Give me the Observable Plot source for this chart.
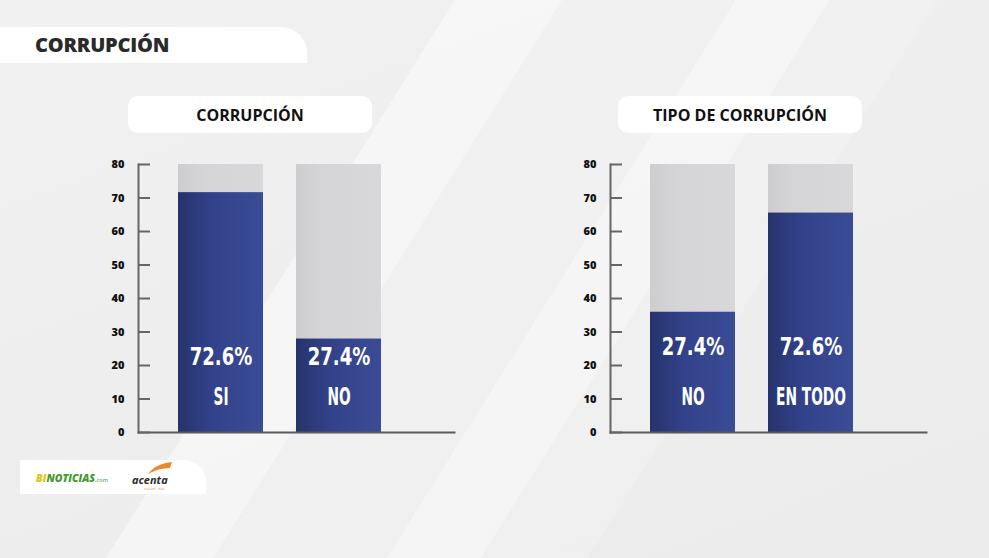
<!DOCTYPE html>
<html>
<head>
<meta charset="utf-8">
<script src="https://cdn.jsdelivr.net/npm/d3@7"></script>
<script src="https://cdn.jsdelivr.net/npm/@observablehq/plot@0.6"></script>
<style>
  html, body { margin: 0; padding: 0; }
  body { width: 989px; height: 558px; overflow: hidden; position: relative;
    font-family: "Open Sans", "DejaVu Sans", sans-serif;
    background:
      linear-gradient(122deg, transparent 0 55%, rgba(255,255,255,0.35) 55% 62%, transparent 62%),
      linear-gradient(122deg, transparent 0 34%, rgba(255,255,255,0.45) 34% 42%, rgba(255,255,255,0.15) 42% 70%, transparent 70%),
      linear-gradient(160deg, #f1f1f2 0%, #eeeeef 45%, #ececed 100%);
  }
  .header { position: absolute; left: 0; top: 27px; width: 307px; height: 36px; background: #fff;
    border-top-right-radius: 26px; }
  .header span { position: absolute; left: 35px; top: 4px; font-size: 20px; font-weight: 800; color: #2a2a2a; letter-spacing: -0.2px; }
  .ptitle { position: absolute; top: 96px; height: 37px; width: 244px; background: #fff; border-radius: 10px;
    display: flex; align-items: center; justify-content: center; font-size: 16px; font-weight: 700; color: #111; }
  .logo { position: absolute; left: 20px; top: 460px; width: 186px; height: 34px; background: #fff; border-top-right-radius: 22px; }
  .plot { position: absolute; top: 150px; }
</style>
</head>
<body>
<svg width="0" height="0" style="position:absolute">
  <defs>
    <linearGradient id="gBlue" x1="0" x2="1" y1="0" y2="0">
      <stop offset="0" stop-color="#26336c"/>
      <stop offset="0.4" stop-color="#32428a"/>
      <stop offset="1" stop-color="#3a4c96"/>
    </linearGradient>
    <linearGradient id="gGray" x1="0" x2="1" y1="0" y2="0">
      <stop offset="0" stop-color="#cdcdcf"/>
      <stop offset="0.3" stop-color="#d5d5d7"/>
      <stop offset="1" stop-color="#d8d8da"/>
    </linearGradient>
  </defs>
</svg>

<div class="header"><span>CORRUPCIÓN</span></div>
<div class="ptitle" style="left:128px;">CORRUPCIÓN</div>
<div class="ptitle" style="left:618px;">TIPO DE CORRUPCIÓN</div>
<div id="p1" class="plot" style="left:100px;"></div>
<div id="p2" class="plot" style="left:572px;"></div>
<div class="logo">
  <svg width="186" height="34">
    <text x="16" y="22" font-family="Open Sans, sans-serif" font-weight="800" font-style="italic" font-size="10.5"><tspan fill="#e2c21e">BI</tspan><tspan fill="#3f9a2c">NOTICIAS</tspan><tspan fill="#3f9a2c" font-size="6" font-weight="400">.com</tspan></text>
    <path d="M128,14 C134,6 142,3 152,2 L150,8 C142,8 135,10 128,14 Z" fill="#e8892a"/>
    <text x="112" y="24" font-family="Open Sans, sans-serif" font-weight="700" font-style="italic" font-size="11" fill="#2b2b2b">acenta</text>
    <text x="124" y="30" font-family="Open Sans, sans-serif" font-size="3" fill="#e8892a">research · data</text>
  </svg>
</div>

<script>
// ---- data ----
const yTicks = [0, 10, 20, 30, 40, 50, 60, 70, 80];
const yMax = 80;

const corrupcionCategories = ["SI", "NO"];
const corrupcionValues = [71.6, 27.9];
const corrupcionLabels = ["72.6%", "27.4%"];

const tipoCategories = ["NO", "EN TODO"];
const tipoValues = [35.9, 65.5];
const tipoLabels = ["27.4%", "72.6%"];

function panel(el, categories, values, labels, pctY, catY) {
  const rows = categories.map((c, i) => ({cat: c, value: values[i], label: labels[i], full: yMax}));
  const plot = Plot.plot({
    width: 370,
    height: 300,
    marginLeft: 38,
    marginRight: 16,
    marginTop: 14,
    marginBottom: 18,
    style: {background: "transparent", fontFamily: "Open Sans, DejaVu Sans, sans-serif", overflow: "visible"},
    x: {type: "band", domain: categories, range: [78, 281], padding: 0.28, paddingOuter: 0, align: 0, axis: null},
    y: {domain: [0, yMax], axis: null},
    marks: [
      Plot.barY(rows, {x: "cat", y: "full", fill: "url(#gGray)"}),
      Plot.barY(rows, {x: "cat", y: "value", fill: "url(#gBlue)"}),
      Plot.frame({anchor: "left", stroke: "#666", strokeWidth: 2}),
      Plot.frame({anchor: "bottom", stroke: "#5a5a5a", strokeWidth: 2}),
      Plot.axisY({ticks: yTicks, tickSize: 12, dx: 12, tickFormat: () => "", label: null, stroke: "#666", strokeWidth: 2}),
      Plot.axisY({ticks: yTicks, tickSize: 0, tickPadding: 14, label: null, fill: "#111", fontSize: 11, fontWeight: 800}),
      Plot.text(rows, {x: "cat", y: () => pctY, text: "label", fill: "#fff", fontSize: 25, fontWeight: 700,
        fontFamily: "DejaVu Sans, sans-serif"}),
      Plot.text(rows, {x: "cat", y: () => catY, text: "cat", fill: "#fff", fontSize: 25, fontWeight: 700,
        fontFamily: "DejaVu Sans, sans-serif"})
    ]
  });
  document.getElementById(el).appendChild(plot);
  const pctSet = new Set(labels);
  const catSet = new Set(categories);
  plot.querySelectorAll("text").forEach(t => {
    const s = t.textContent;
    const fill = t.closest("g") && t.closest("g").getAttribute("fill");
    if (fill !== "#fff") return;
    let f = null;
    if (s.includes("%") && pctSet.has(s)) f = 0.72;
    else if (catSet.has(s)) f = 0.55;
    if (f == null) return;
    const w = t.getComputedTextLength();
    t.setAttribute("textLength", (w * f).toFixed(1));
    t.setAttribute("lengthAdjust", "spacingAndGlyphs");
  });
}

panel("p1", corrupcionCategories, corrupcionValues, corrupcionLabels, 22.5, 10.6);
panel("p2", tipoCategories, tipoValues, tipoLabels, 25.5, 10.6);
</script>
</body>
</html>
